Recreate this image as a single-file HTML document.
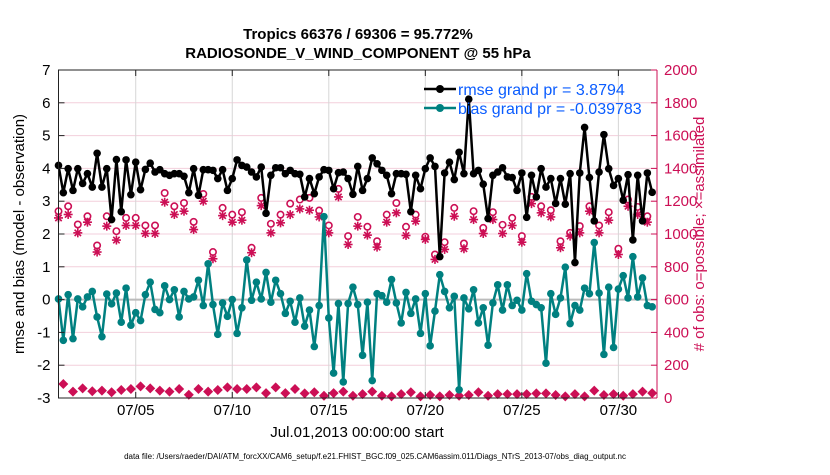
<!DOCTYPE html>
<html><head><meta charset="utf-8"><style>
body{margin:0;background:#fff;width:830px;height:470px;overflow:hidden;font-family:"Liberation Sans",Arial,sans-serif}
svg text{font-family:"Liberation Sans",Arial,sans-serif}
</style></head><body>
<svg id="chart" width="830" height="470" viewBox="0 0 830 470" xmlns="http://www.w3.org/2000/svg">
<g id="grid"></g>
<g id="series"></g>
<g id="axes"></g>
<text x="358" y="39" text-anchor="middle" font-size="15" font-weight="bold">Tropics 66376 / 69306 = 95.772%</text>
<text x="358" y="58" text-anchor="middle" font-size="15" font-weight="bold">RADIOSONDE_V_WIND_COMPONENT @ 55 hPa</text>
<text transform="translate(24,234) rotate(-90)" text-anchor="middle" font-size="15">rmse and bias (model - observation)</text>
<text transform="translate(704,234) rotate(-90)" text-anchor="middle" font-size="15" fill="#cc0f55"># of obs: o=possible; ×=assimilated</text>
<text x="357" y="437" text-anchor="middle" font-size="15">Jul.01,2013 00:00:00 start</text>
<text x="375" y="459" text-anchor="middle" font-size="8">data file: /Users/raeder/DAI/ATM_forcXX/CAM6_setup/f.e21.FHIST_BGC.f09_025.CAM6assim.011/Diags_NTrS_2013-07/obs_diag_output.nc</text>
<g>
<line x1="424" y1="89" x2="456" y2="89" stroke="#000" stroke-width="2.5"/><circle cx="440" cy="89" r="4" fill="#000"/>
<text x="458" y="95" font-size="16" fill="#0a5cff">rmse grand pr = 3.8794</text>
<line x1="424" y1="108" x2="456" y2="108" stroke="#008080" stroke-width="2.5"/><circle cx="440" cy="108" r="4" fill="#008080"/>
<text x="458" y="114" font-size="16" fill="#0a5cff">bias grand pr = -0.039783</text>
</g>
</svg>
<script>
const rmse=[4.09,3.26,3.99,3.33,3.99,3.54,3.84,3.43,4.46,3.43,3.99,2.44,4.27,2.68,4.26,3.2,4.19,3.35,3.97,4.16,3.89,3.96,3.84,3.79,3.84,3.84,3.76,3.26,3.99,3.18,3.96,3.96,
3.94,3.69,3.96,3.33,3.69,4.26,4.09,4.04,3.89,3.74,4.04,2.63,3.79,4.02,4.02,3.84,3.94,3.84,3.82,3.13,3.69,3.23,3.74,3.96,3.94,3.38,3.87,3.89,3.69,3.21,4.06,
3.33,3.69,4.32,4.14,3.94,3.79,3.23,3.84,3.84,3.82,2.68,3.79,3.38,3.99,4.32,4.06,1.31,3.86,4.19,3.66,4.49,3.84,6.11,3.84,3.94,3.52,2.47,3.79,3.89,4.02,3.74,
3.72,3.33,3.86,2.51,3.79,3.13,3.99,3.43,3.69,2.93,3.69,2.91,3.84,1.13,3.86,5.25,3.72,2.4,3.89,5.03,3.99,3.48,3.69,3.03,3.81,1.82,3.79,2.4,3.86,3.27];
const bias=[0.02,-1.24,0.15,-1.19,0.02,-0.22,0.08,0.25,-0.53,-1.13,0.17,-0.13,0.2,-0.69,0.35,-0.78,-0.4,-0.64,0.15,0.53,-0.3,-0.4,0.42,0,0.3,-0.53,0.25,0.02,0.08,0.59,-0.18,1.09,
-0.15,-1.06,-0.1,-0.51,0,-1.03,-0.25,1.21,-0.02,0.53,0.02,0.83,-0.08,0.59,0.18,-0.42,-0.05,-0.69,0.05,-0.81,-0.32,-1.43,-0.18,2.53,-0.56,-2.24,-0.12,-2.51,-0.12,0.38,-0.15,
-1.7,-0.08,-2.47,0.18,0.12,-0.08,0.61,-0.1,-0.71,0.22,-0.42,0.02,-1.03,0.18,-1.41,-0.35,0.76,0.25,-0.25,0.1,-2.75,0.05,-0.28,0.3,-0.71,-0.25,-1.39,-0.1,0.45,-0.32,0.45,
-0.18,-0.02,-0.32,0.79,-0.05,-0.15,-0.25,-1.94,0.18,-0.45,0.05,0.99,-0.73,-0.18,-0.32,0.35,0.18,1.74,0.2,-1.67,0.38,-1.46,0.32,0.73,0.05,1.31,0.08,0.66,-0.18,-0.22];
// obs counts at 00Z/12Z (even indices) and 06Z/18Z (odd indices)
const possibleMain=[1139,1169,1058,1108,930,1108,1017,1098,1098,1052,1052,1250,1169,1189,1074,1244,890,1159,1118,1133,916,1220,1062,1118,1185,1210,1220,1143,1052,1275,987,1104,1044,956,1118,1189,1044,1118,983,875,950,1159,942,1139,1037,1133,1056,1098,987,1226,1169,1145,956,1007,1048,1169,1052,1133,910,1210,1165,1108];
const assimMain=[1098,1119,1007,1072,890,1048,963,1052,1052,1003,1003,1194,1119,1139,1027,1200,849,1112,1072,1084,886,1173,1007,1068,1118,1153,1145,1104,1007,1226,936,1048,993,920,1072,1129,991,1078,967,845,906,1108,910,1088,1003,1088,1003,1052,950,1185,1129,1104,916,987,1007,1139,1007,1084,875,1169,1119,1072];
const countLow=[85,39,59,41,45,35,49,55,71,59,45,39,55,20,55,39,49,65,55,55,65,30,65,30,55,28,35,14,30,39,14,24,39,14,10,24,35,10,18,10,18,14,18,35,14,24,24,24,24,28,28,18,10,24,10,45,18,24,14,24,39,30];
const xTickDays=[4,9,14,19,24,29];
const xTickLabels=["07/05","07/10","07/15","07/20","07/25","07/30"];
const yTicks=[-3,-2,-1,0,1,2,3,4,5,6,7];
const y2Ticks=[0,200,400,600,800,1000,1200,1400,1600,1800,2000];

const NS="http://www.w3.org/2000/svg";
const L=58.5,R=657,T=70,B=398;
const X=d=>L+d/31*(R-L);
const Y=v=>B-(v+3)/10*(B-T);
const Y2=c=>B-c/2000*(B-T);
const MAG="#cc0f55";
function mk(tag,attrs,parent){const e=document.createElementNS(NS,tag);for(const k in attrs)e.setAttribute(k,attrs[k]);parent.appendChild(e);return e;}
const grid=document.getElementById('grid'),series=document.getElementById('series'),axes=document.getElementById('axes');

y2Ticks.forEach(c=>{const g=mk('line',{x1:L,x2:R,y1:Y2(c),y2:Y2(c),stroke:'#f3cfdc','stroke-width':1},grid);

});
xTickDays.forEach(d=>{const g=mk('line',{x1:X(d),x2:X(d),y1:T,y2:B,stroke:'#d6d6d6','stroke-width':1},grid);

});
const zl=mk('line',{x1:L,x2:R,y1:Y(0),y2:Y(0),stroke:'#bbbbbb','stroke-width':2},grid);



function dayOf(i){return i*0.25;}
function drawLine(vals,color,name){
  const p=mk('polyline',{points:vals.map((v,i)=>X(dayOf(i))+','+Y(v)).join(' '),fill:'none',stroke:color,'stroke-width':2.5,'stroke-linejoin':'round'},series);
  
  
  vals.forEach((v,i)=>{const c=mk('circle',{cx:X(dayOf(i)),cy:Y(v),r:3.8,fill:color},series);
  
  });
}
function star(x,y,name){const g=mk('g',{stroke:MAG,'stroke-width':1.6},series);


const s=4.5,d=3.2;mk('line',{x1:x-s,x2:x+s,y1:y,y2:y},g);mk('line',{x1:x,x2:x,y1:y-s,y2:y+s},g);
mk('line',{x1:x-d,x2:x+d,y1:y-d,y2:y+d},g);mk('line',{x1:x-d,x2:x+d,y1:y+d,y2:y-d},g);}
function ring(x,y,name){const c=mk('circle',{cx:x,cy:y,r:3.2,fill:'#fff',stroke:MAG,'stroke-width':1.6},series);

}
possibleMain.forEach((c,j)=>{ring(X(dayOf(2*j)),Y2(c),'possible-obs-marker');});
assimMain.forEach((c,j)=>{star(X(dayOf(2*j)),Y2(c),'assimilated-obs-marker');});
countLow.forEach((c,j)=>{const x=X(dayOf(2*j+1)),y=Y2(c);
const d=mk('path',{d:`M${x} ${y-5}L${x+5} ${y}L${x} ${y+5}L${x-5} ${y}Z`,fill:MAG},series);

});
drawLine(bias,'#008080','bias');
drawLine(rmse,'#000000','rmse');

// axes
const box=mk('path',{d:`M${R} ${T}L${L} ${T}L${L} ${B}L${R} ${B}`,fill:'none',stroke:'#222','stroke-width':1},axes);


const ra=mk('line',{x1:R,x2:R,y1:T,y2:B,stroke:MAG,'stroke-width':1},axes);


yTicks.forEach(v=>{mk('line',{x1:L,x2:L+6,y1:Y(v),y2:Y(v),stroke:'#222'},axes);
const t=mk('text',{x:L-8,y:Y(v)+5,'text-anchor':'end','font-size':15},axes);t.textContent=v;

});
y2Ticks.forEach(c=>{mk('line',{x1:R-6,x2:R,y1:Y2(c),y2:Y2(c),stroke:MAG},axes);
const t=mk('text',{x:R+7,y:Y2(c)+5,'font-size':15,fill:MAG},axes);t.textContent=c;

});
xTickDays.forEach((d,i)=>{mk('line',{x1:X(d),x2:X(d),y1:B,y2:B-6,stroke:'#222'},axes);mk('line',{x1:X(d),x2:X(d),y1:T,y2:T+6,stroke:'#222'},axes);
const t=mk('text',{x:X(d),y:B+17,'text-anchor':'middle','font-size':15},axes);t.textContent=xTickLabels[i];

});
</script>
</body></html>
